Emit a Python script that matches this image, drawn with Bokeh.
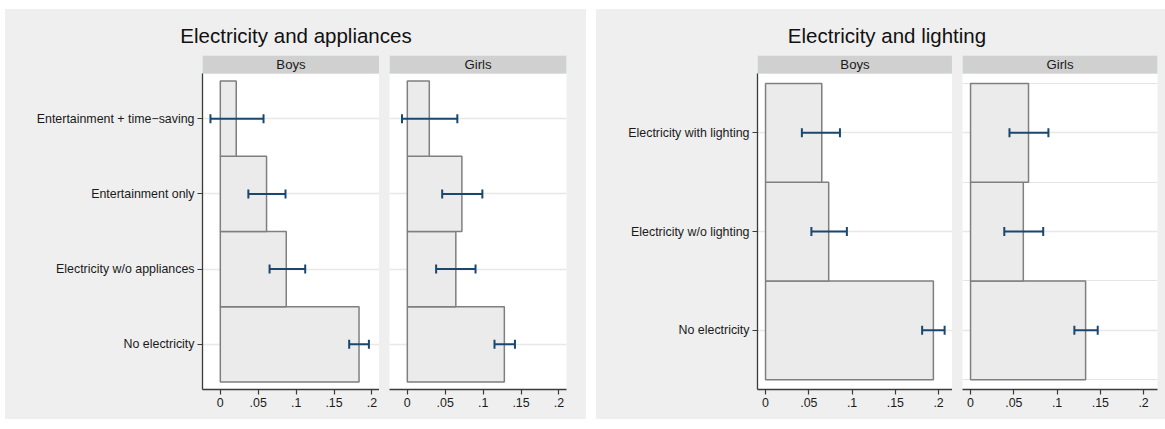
from bokeh.plotting import figure
from bokeh.models import (ColumnDataSource, Whisker, TeeHead, FixedTicker, Range1d,
                          Grid, Spacer)
from bokeh.layouts import row, column
from bokeh.core.properties import value
from bokeh.embed import file_html
from bokeh.resources import INLINE

# ---------------- data ----------------
app_cats = ["No electricity", "Electricity w/o appliances", "Entertainment only",
            "Entertainment + time\u2212saving"]
app_boys = [0.183, 0.087, 0.061, 0.021]
app_boys_lo = [0.170, 0.065, 0.037, -0.013]
app_boys_hi = [0.196, 0.112, 0.086, 0.057]
app_girls = [0.128, 0.064, 0.072, 0.029]
app_girls_lo = [0.115, 0.038, 0.046, -0.007]
app_girls_hi = [0.142, 0.090, 0.099, 0.066]

lig_cats = ["No electricity", "Electricity w/o lighting", "Electricity with lighting"]
lig_boys = [0.194, 0.073, 0.065]
lig_boys_lo = [0.181, 0.053, 0.042]
lig_boys_hi = [0.207, 0.094, 0.086]
lig_girls = [0.133, 0.061, 0.067]
lig_girls_lo = [0.120, 0.039, 0.045]
lig_girls_hi = [0.147, 0.084, 0.090]

panel_labels = ["Boys", "Girls"]
chart_titles = ["Electricity and appliances", "Electricity and lighting"]
x_ticks = [0, 0.05, 0.1, 0.15, 0.2]
x_tick_labels = ["0", ".05", ".1", ".15", ".2"]

# ---------------- style ----------------
FONT = "Liberation Sans"
BG = "#efefef"
BAR_FILL = "#ebebeb"
BAR_LINE = "#7f7f7f"
CI_COLOR = "#1a476f"
AXIS_COLOR = "#3a3a3a"
GRID_COLOR = "#e8e8e8"
STRIP_FILL = "#d0d0d0"
STRIP_LINE = "#d2e3ea"
TEXT = "#1a1a1a"

PLOT_PX = 316
STRIP_PX = 18
BOTTOM_PX = 30
TITLE_PX = 46


def make_panel(cats, vals, lo, hi, label, xr, show_y, bl, br, fw):
    n = len(cats)
    ys = [i + 1 for i in range(n)]
    y0, y1 = 0.4, n + 0.6
    y_end = y1 + STRIP_PX * (y1 - y0) / PLOT_PX
    p = figure(width=bl + fw + br, height=PLOT_PX + STRIP_PX + BOTTOM_PX,
               x_range=Range1d(*xr), y_range=Range1d(y0, y_end),
               y_axis_location="left" if show_y else None,
               output_backend="svg", toolbar_location=None, title=None,
               min_border_left=bl, min_border_right=br, min_border_top=0,
               min_border_bottom=BOTTOM_PX, margin=0)
    p.background_fill_color = "white"
    p.border_fill_color = BG
    p.outline_line_color = None
    p.xgrid.visible = False

    if show_y:
        p.ygrid.visible = False
    p.add_layout(Grid(dimension=1, ticker=FixedTicker(ticks=ys),
                      grid_line_color=GRID_COLOR, grid_line_width=1.3))

    xa = p.xaxis[0]
    xa.ticker = FixedTicker(ticks=x_ticks)
    xa.major_label_overrides = {t: l for t, l in zip(x_ticks, x_tick_labels)}
    xa.axis_line_color = AXIS_COLOR
    xa.axis_line_width = 1.3
    xa.major_tick_line_color = AXIS_COLOR
    xa.major_tick_line_width = 1.2
    xa.major_tick_out = 5
    xa.major_tick_in = 0
    xa.minor_tick_line_color = None
    xa.major_label_text_font = FONT
    xa.major_label_text_font_size = "12.4px"
    xa.major_label_text_color = TEXT
    xa.major_label_standoff = 3

    if show_y:
        ya = p.yaxis[0]
        ya.ticker = FixedTicker(ticks=ys)
        ya.major_label_overrides = {y: c for y, c in zip(ys, cats)}
        ya.bounds = (y0, y1)
        ya.axis_line_color = AXIS_COLOR
        ya.axis_line_width = 1.3
        ya.major_tick_line_color = AXIS_COLOR
        ya.major_tick_line_width = 1.2
        ya.major_tick_out = 5
        ya.major_tick_in = 0
        ya.minor_tick_line_color = None
        ya.major_label_text_font = FONT
        ya.major_label_text_font_size = "12.4px"
        ya.major_label_text_color = TEXT
        ya.major_label_standoff = 3

    src = ColumnDataSource(dict(y=ys, v=vals, lo=lo, hi=hi))
    p.hbar(y="y", left=0, right="v", height=1.0, source=src,
           fill_color=BAR_FILL, line_color=BAR_LINE, line_width=1.5)

    head = dict(size=9, line_color=CI_COLOR, line_width=2)
    w = Whisker(source=src, base="y", lower="lo", upper="hi", dimension="width",
                line_color=CI_COLOR, line_width=2, level="overlay",
                lower_head=TeeHead(**head), upper_head=TeeHead(**head))
    p.add_layout(w)

    p.quad(left=[xr[0]], right=[xr[1]], bottom=[y1], top=[y_end],
           fill_color=STRIP_FILL, line_color=STRIP_LINE, line_width=1.2)
    p.text(x=[(xr[0] + xr[1]) / 2], y=[(y1 + y_end) / 2], text=[label],
           text_font=value(FONT), text_font_size="13.2px", text_color=TEXT,
           text_align="center", text_baseline="middle")
    return p


def title_fig(text, width, center_px):
    t = figure(width=width, height=TITLE_PX, x_range=Range1d(0, width),
               y_range=Range1d(0, TITLE_PX), x_axis_location=None,
               y_axis_location=None, output_backend="svg", toolbar_location=None,
               title=None, min_border=0, margin=0)
    t.background_fill_color = BG
    t.border_fill_color = BG
    t.outline_line_color = None
    t.grid.visible = False
    t.text(x=[center_px], y=[TITLE_PX - 25.5], text=[text], text_font=value(FONT),
           text_font_size="20.5px", text_color="#111111", text_align="center",
           text_baseline="middle")
    return t


xr_app = (-0.0235, 0.2100)
xr_lig = (-0.0093, 0.2161)

lb = make_panel(app_cats, app_boys, app_boys_lo, app_boys_hi, panel_labels[0], xr_app,
                True, 197, 0, 177)
lg = make_panel(app_cats, app_girls, app_girls_lo, app_girls_hi, panel_labels[1], xr_app,
                False, 10, 20, 177)
rb = make_panel(lig_cats, lig_boys, lig_boys_lo, lig_boys_hi, panel_labels[0], xr_lig,
                True, 161, 0, 195)
rg = make_panel(lig_cats, lig_girls, lig_girls_lo, lig_girls_hi, panel_labels[1], xr_lig,
                False, 10, 8, 195)

chart_l = column(title_fig(chart_titles[0], 581, 290.5), row(lb, lg, spacing=0),
                 spacing=0, styles={"background-color": BG})
chart_r = column(title_fig(chart_titles[1], 569, 290.5), row(rb, rg, spacing=0),
                 spacing=0, styles={"background-color": BG})

root = column(Spacer(width=1165, height=9, margin=0),
              row(Spacer(width=5, height=410, margin=0), chart_l,
                  Spacer(width=10, height=410, margin=0), chart_r, spacing=0),
              spacing=0)

open("out.html", "w").write(file_html(root, INLINE))
